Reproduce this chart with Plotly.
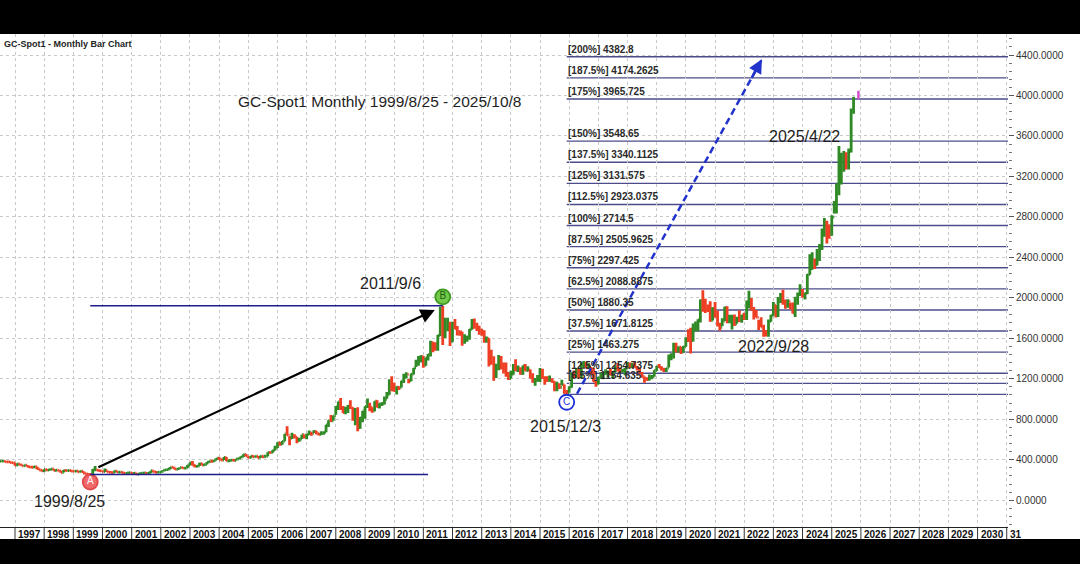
import plotly.graph_objects as go
import pandas as pd

# ---------------- data (monthly gold bars, Jul 1996 - Oct 2025) ----------------
first_month = "1996-07-01"
first_open = 383.0
close = [
    385.3, 386.9, 379.0, 378.7, 371.3, 369.3,                                   # 1996 H2
    345.5, 358.6, 348.2, 340.2, 345.4, 334.6, 326.4, 325.4, 332.1, 311.4, 296.8, 289.9,  # 1997
    303.2, 297.4, 301.3, 309.7, 293.6, 296.3, 288.8, 273.4, 293.8, 292.3, 293.5, 287.8,  # 1998
    287.1, 287.3, 279.6, 286.6, 268.6, 261.0, 255.6, 254.8, 299.0, 299.1, 291.4, 290.3,  # 1999
    283.3, 293.7, 278.4, 274.0, 272.2, 288.2, 276.8, 277.3, 273.0, 264.5, 269.1, 272.7,  # 2000
    265.6, 267.1, 257.7, 263.2, 267.3, 270.6, 265.4, 273.0, 293.1, 278.8, 274.6, 276.5,  # 2001
    282.3, 296.9, 301.4, 308.2, 326.6, 318.5, 303.7, 312.8, 324.6, 316.9, 317.6, 347.2,  # 2002
    367.5, 347.5, 334.9, 336.8, 361.4, 346.0, 354.8, 375.6, 388.0, 386.3, 398.4, 416.3,  # 2003
    399.8, 396.0, 423.7, 388.5, 393.3, 395.8, 391.4, 407.3, 415.7, 428.6, 452.6, 438.0,  # 2004
    422.2, 434.9, 428.6, 435.7, 417.3, 435.2, 429.4, 433.3, 473.3, 469.9, 495.8, 517.0,  # 2005
    568.8, 555.0, 582.0, 654.5, 643.0, 613.5, 632.5, 623.5, 599.3, 603.8, 646.7, 632.0,  # 2006
    650.5, 664.2, 661.8, 679.0, 659.5, 650.5, 665.5, 672.5, 743.0, 789.5, 783.5, 833.8,  # 2007
    923.0, 971.5, 916.0, 865.0, 885.5, 928.3, 912.0, 833.0, 870.9, 718.0, 814.5, 882.0,  # 2008
    927.5, 942.5, 916.5, 883.3, 979.5, 926.0, 954.0, 955.5, 995.8, 1040.0, 1181.0, 1096.5,  # 2009
    1083, 1118, 1113, 1180, 1213, 1244, 1181, 1247, 1307, 1357, 1386, 1421,              # 2010
    1332, 1410, 1439, 1556, 1536, 1500, 1628, 1825, 1620, 1722, 1746, 1565,              # 2011
    1738, 1696, 1668, 1664, 1562, 1604, 1614, 1691, 1772, 1719, 1712, 1675,              # 2012
    1663, 1579, 1596, 1472, 1393, 1234, 1313, 1396, 1327, 1323, 1250, 1202,              # 2013
    1244, 1326, 1284, 1296, 1250, 1327, 1282, 1287, 1210, 1171, 1182, 1184,              # 2014
    1283, 1212, 1183, 1183, 1190, 1172, 1095, 1133, 1115, 1142, 1064, 1061,              # 2015
    1118, 1238, 1233, 1293, 1215, 1321, 1350, 1309, 1316, 1277, 1173, 1151,              # 2016
    1211, 1248, 1249, 1268, 1268, 1242, 1269, 1321, 1280, 1271, 1275, 1303,              # 2017
    1345, 1318, 1325, 1315, 1299, 1253, 1224, 1201, 1192, 1215, 1222, 1282,              # 2018
    1321, 1313, 1292, 1284, 1305, 1409, 1413, 1520, 1472, 1513, 1464, 1517,              # 2019
    1589, 1585, 1577, 1687, 1730, 1781, 1975, 1968, 1886, 1879, 1776, 1895,              # 2020
    1847, 1734, 1708, 1769, 1906, 1770, 1814, 1814, 1743, 1783, 1774, 1829,              # 2021
    1796, 1909, 1937, 1897, 1837, 1807, 1766, 1711, 1661, 1633, 1768, 1824,              # 2022
    1928, 1827, 1969, 1990, 1963, 1919, 1965, 1940, 1849, 1983, 2036, 2063,              # 2023
    2039, 2044, 2230, 2286, 2327, 2326, 2447, 2503, 2634, 2744, 2643, 2625,              # 2024
    2798, 2858, 3124, 3288, 3289, 3303, 3290, 3448, 3858, 3975,                          # 2025
]
high = [
    389, 392, 388, 384, 384, 373,
    369, 365, 359, 348, 348, 345, 335, 332, 335, 334, 313, 298,
    307, 304, 302, 314, 310, 298, 296, 291, 298, 301, 299, 296,
    292, 291, 291, 290, 289, 271, 261, 259, 308, 338, 305, 292,
    292, 313, 294, 287, 276, 293, 291, 281, 277, 274, 272, 275,
    273, 270, 268, 265, 275, 273, 272, 278, 294, 294, 285, 281,
    284, 298, 304, 309, 328, 328, 321, 314, 325, 326, 320, 349,
    372, 388, 352, 342, 371, 364, 359, 378, 391, 391, 399, 418,
    428, 411, 427, 427, 396, 400, 407, 410, 419, 434, 454, 456,
    430, 439, 445, 438, 437, 442, 430, 448, 475, 481, 496, 538,
    572, 574, 585, 654, 730, 632, 667, 651, 628, 618, 648, 649,
    656, 689, 668, 692, 686, 665, 681, 678, 745, 790, 841, 838,
    931, 975, 1011, 932, 923, 940, 988, 919, 912, 918, 823, 882,
    929, 1006, 964, 918, 979, 987, 959, 965, 1024, 1070, 1195, 1226,
    1162, 1126, 1127, 1180, 1249, 1265, 1198, 1252, 1307, 1388, 1424, 1432,
    1424, 1411, 1446, 1577, 1565, 1560, 1632, 1911, 1920.9, 1803, 1804, 1764,
    1764, 1791, 1722, 1677, 1665, 1641, 1625, 1693, 1790, 1796, 1755, 1724,
    1694, 1679, 1617, 1600, 1487, 1423, 1348, 1434, 1425, 1361, 1362, 1267,
    1280, 1345, 1392, 1331, 1315, 1332, 1345, 1323, 1292, 1255, 1208, 1238,
    1307, 1300, 1224, 1224, 1232, 1205, 1175, 1170, 1157, 1191, 1143, 1088,
    1127, 1263, 1283, 1306, 1304, 1362, 1375, 1367, 1353, 1317, 1307, 1180,
    1220, 1264, 1261, 1295, 1272, 1296, 1270, 1331, 1357, 1306, 1299, 1306,
    1366, 1361, 1356, 1365, 1326, 1309, 1266, 1223, 1214, 1243, 1237, 1284,
    1326, 1346, 1324, 1310, 1306, 1439, 1453, 1555, 1557, 1518, 1516, 1525,
    1611, 1689, 1704, 1747, 1765, 1789, 1984, 2075, 1992, 1933, 1966, 1906,
    1959, 1872, 1755, 1798, 1913, 1917, 1832, 1834, 1836, 1814, 1877, 1831,
    1853, 1974, 2070, 1998, 1910, 1880, 1784, 1808, 1735, 1682, 1786, 1833,
    1959, 1929, 2009, 2048, 2079, 1984, 1987, 1950, 1953, 2010, 2052, 2135,
    2088, 2049, 2236, 2431, 2450, 2388, 2483, 2531, 2685, 2790, 2761, 2726,
    2817, 2956, 3128, 3500, 3435, 3451, 3439, 3475, 3871, 3985,
]
low = [
    380, 384, 378, 376, 370, 366,
    341, 341, 345, 337, 340, 334, 318, 320, 320, 305, 295, 283,
    278, 294, 293, 299, 291, 288, 285, 271, 274, 288, 291, 286,
    283, 284, 278, 279, 268, 257, 253, 252.9, 255, 296, 289, 285,
    280, 282, 277, 273, 263, 271, 274, 270, 270, 263, 263, 267,
    264, 257, 256, 256, 262, 265, 264, 265, 270, 277, 272, 272,
    276, 283, 290, 302, 307, 316, 302, 302, 311, 313, 313, 317,
    343, 344, 326, 325, 338, 342, 340, 354, 370, 370, 380, 397,
    399, 394, 397, 387, 374, 386, 388, 392, 401, 415, 426, 432,
    414, 415, 426, 424, 414, 416, 418, 430, 434, 462, 469, 491,
    517, 538, 548, 582, 643, 543, 604, 611, 562, 578, 606, 610,
    602, 645, 637, 663, 651, 640, 645, 647, 672, 724, 772, 784,
    845, 891, 892, 862, 849, 863, 901, 786, 740, 681, 705, 771,
    806, 910, 880, 865, 880, 917, 907, 931, 946, 1003, 1041, 1076,
    1072, 1044, 1088, 1115, 1159, 1203, 1157, 1176, 1242, 1316, 1330, 1361,
    1309, 1330, 1380, 1420, 1462, 1478, 1478, 1623, 1535, 1604, 1670, 1523,
    1563, 1690, 1627, 1626, 1527, 1546, 1565, 1585, 1684, 1694, 1672, 1636,
    1626, 1555, 1555, 1321, 1338, 1180, 1208, 1284, 1291, 1251, 1221, 1187,
    1202, 1239, 1277, 1268, 1240, 1241, 1280, 1273, 1206, 1161, 1131, 1170,
    1167, 1197, 1142, 1175, 1170, 1162, 1077, 1077, 1099, 1136, 1052, 1046.2,
    1061, 1111, 1208, 1208, 1200, 1208, 1310, 1302, 1303, 1241, 1171, 1122,
    1146, 1207, 1195, 1240, 1214, 1236, 1204, 1267, 1275, 1260, 1264, 1236,
    1302, 1307, 1303, 1310, 1282, 1251, 1211, 1160, 1180, 1182, 1196, 1221,
    1276, 1311, 1281, 1266, 1266, 1311, 1382, 1400, 1459, 1459, 1446, 1460,
    1517, 1563, 1451, 1568, 1671, 1671, 1757, 1863, 1849, 1860, 1764, 1775,
    1802, 1717, 1677, 1722, 1770, 1750, 1750, 1688, 1721, 1746, 1762, 1753,
    1781, 1780, 1895, 1873, 1787, 1805, 1681, 1710, 1615, 1617, 1616, 1763,
    1823, 1805, 1810, 1949, 1932, 1893, 1903, 1885, 1846, 1810, 1931, 2017,
    2001, 1984, 2038, 2228, 2277, 2286, 2320, 2364, 2472, 2604, 2537, 2583,
    2614, 2833, 2833, 3015, 3121, 3247, 3268, 3269, 3436, 3820,
]

# Fibonacci expansion A -> B projected from C
fib_pct = ["0%", "6.5%", "12.5%", "25%", "37.5%", "50%", "62.5%", "75%", "87.5%",
           "100%", "112.5%", "125%", "137.5%", "150%", "175%", "187.5%", "200%"]
fib_val = ["1046.2", "1154.635", "1254.7375", "1463.275", "1671.8125", "1880.35",
           "2088.8875", "2297.425", "2505.9625", "2714.5", "2923.0375", "3131.575",
           "3340.1125", "3548.65", "3965.725", "4174.2625", "4382.8"]
fib_start = "2015-12-01"

# pivot points
pt_label = ["A", "B", "C"]
pt_date = ["1999-08-01", "2011-09-01", "2015-12-01"]
pt_price = [252.9, 1920.9, 1046.2]
pt_marker_price = [180, 2010, 968]
pt_caption = ["1999/8/25", "2011/9/6", "2015/12/3"]

year_labels = [str(y) for y in range(1997, 2031)] + ["31"]
year_starts = [f"{y}-01-01" for y in range(1997, 2032)]

x_range = ["1996-06-27", "2031-01-17"]
y_range = [-264.9, 4607.6]

# ---------------- figure ----------------
months = pd.date_range(first_month, periods=len(close), freq="MS")
opens = [first_open] + close[:-1]

GREEN = "#2f8a26"
RED = "#ee3f24"
TXT = "#1e1e1e"

fig = go.Figure()
fig.add_trace(go.Ohlc(
    x=months, open=opens, high=high, low=low, close=close,
    increasing=dict(line=dict(color=GREEN, width=2.8)),
    decreasing=dict(line=dict(color=RED, width=2.8)),
    tickwidth=0.45, hoverinfo="skip", showlegend=False,
))

shapes = []
annotations = []

# white chart panel (over black letterbox)
shapes.append(dict(type="rect", xref="paper", yref="paper", x0=0, x1=1080 / 1008,
                   y0=-12 / 493, y1=1.0, fillcolor="white", line=dict(width=0), layer="below"))

# fib lines and labels
for p, v in zip(fib_pct, fib_val):
    shapes.append(dict(type="line", xref="x", yref="y", x0=fib_start, x1=x_range[1],
                       y0=float(v), y1=float(v), line=dict(color="#4c4c8a", width=1.4),
                       layer="below"))
    if p != "0%":
        annotations.append(dict(x=fib_start, y=float(v), xref="x", yref="y",
                                xanchor="left", yanchor="bottom", showarrow=False,
                                xshift=-1, yshift=0,
                                text=f"[{p}] {v}",
                                font=dict(family="Liberation Sans", size=10, color="#2a2a2a",
                                          weight="bold")))

# A and B horizontal levels
shapes.append(dict(type="line", xref="x", yref="y", x0=pt_date[0], x1="2011-03-01",
                   y0=pt_price[0], y1=pt_price[0], line=dict(color="#1f1f8c", width=1.5)))
shapes.append(dict(type="line", xref="x", yref="y", x0=pt_date[0], x1=pt_date[1],
                   y0=pt_price[1], y1=pt_price[1], line=dict(color="#1f1f8c", width=1.5)))

# black arrow A -> B
annotations.append(dict(x="2011-05-25", y=1880, ax="1999-10-23", ay=318,
                        xref="x", yref="y", axref="x", ayref="y", text="",
                        showarrow=True, arrowhead=2, arrowsize=1.3, arrowwidth=2.2,
                        arrowcolor="black"))

# blue dashed projection from C
proj_dates = ["2016-04-08", "2022-08-10"]
proj_prices = [1052, 4357]
fig.add_trace(go.Scatter(x=proj_dates, y=proj_prices, mode="lines",
                         line=dict(color="#2233cc", width=2.5, dash="7px,4px"),
                         hoverinfo="skip", showlegend=False))
annotations.append(dict(x=proj_dates[1], y=proj_prices[1], xref="x", yref="y",
                        ax=-11, ay=20, text="", showarrow=True, arrowhead=2,
                        arrowsize=1.1, arrowwidth=2.5, arrowcolor="#2233cc"))

# pivot circles
fig.add_trace(go.Scatter(
    x=pt_date, y=pt_marker_price, mode="markers+text", text=pt_label,
    textposition="middle center",
    textfont=dict(family="Liberation Sans", size=10, color=["white", "#1f5e12", "#1d2fd6"]),
    marker=dict(size=15, color=["#f0686a", "#72c94a", "white"],
                line=dict(color=["#e0484a", "#3f9a22", "#1d2fd6"], width=1.8)),
    hoverinfo="skip", showlegend=False))

# current price tick (magenta)
fig.add_trace(go.Scatter(x=["2025-12-01"], y=[4005], mode="markers",
                         marker=dict(symbol="line-ns", size=6,
                                     line=dict(color="#d24fd2", width=2.5)),
                         hoverinfo="skip", showlegend=False))

# captions
cap_pos = [("1998-11-18", -8), ("2009-11-20", 2137), ("2015-11-20", 733)]
for c, (cx, cy) in zip(pt_caption, cap_pos):
    annotations.append(dict(x=cx, y=cy, xref="x", yref="y", text=c, showarrow=False,
                            font=dict(family="Liberation Sans", size=16, color=TXT)))
for c, cx, cy in [("2022/9/28", "2022-12-28", 1524), ("2025/4/22", "2024-01-30", 3590)]:
    annotations.append(dict(x=cx, y=cy, xref="x", yref="y", text=c, showarrow=False,
                            font=dict(family="Liberation Sans", size=16, color=TXT)))
annotations.append(dict(x="2009-07-05", y=3945, xref="x", yref="y",
                        text="GC-Spot1 Monthly 1999/8/25 - 2025/10/8", showarrow=False,
                        font=dict(family="Liberation Sans", size=15.5, color=TXT)))

# chart header
annotations.append(dict(x=0, y=1, xref="paper", yref="paper", xanchor="left", yanchor="top",
                        xshift=2, yshift=-3, text="GC-Spot1 - Monthly Bar Chart",
                        showarrow=False,
                        font=dict(family="Liberation Sans", size=9, color="#222",
                                  weight="bold")))

# year axis boxes
for ys in year_starts:
    shapes.append(dict(type="line", xref="x", yref="paper", x0=ys, x1=ys,
                       y0=-12 / 493, y1=0, line=dict(color="#333", width=1)))
for lab, ys in zip(year_labels, year_starts):
    annotations.append(dict(x=ys, y=0, xref="x", yref="paper", xanchor="left",
                            yanchor="top", xshift=1, yshift=0, text=lab, showarrow=False,
                            font=dict(family="Liberation Sans", size=10, color="#111",
                                      weight="bold")))

fig.update_layout(
    width=1080, height=564,
    margin=dict(l=0, r=72, t=34, b=37),
    paper_bgcolor="black", plot_bgcolor="white",
    shapes=shapes, annotations=annotations,
    showlegend=False, hovermode=False,
    xaxis=dict(type="date", range=x_range, tickvals=year_starts, showticklabels=False,
               ticks="", showgrid=True, gridcolor="#c9c9c9", griddash="3px,3px",
               gridwidth=1, showline=True, linecolor="#222", linewidth=1,
               rangeslider=dict(visible=False), zeroline=False, fixedrange=True),
    yaxis=dict(side="right", range=y_range, tickvals=list(range(0, 4401, 400)),
               tickformat=".4f", ticks="outside", ticklen=5, tickcolor="#555",
               tickfont=dict(family="Liberation Sans", size=10, color="#333"),
               showgrid=True, gridcolor="#c9c9c9", griddash="3px,3px", zeroline=False,
               minor=dict(dtick=80, tick0=0, ticks="outside", ticklen=3, tickcolor="#777",
                          showgrid=False),
               showline=False, fixedrange=True),
)

fig.write_html("out.html", config={"displayModeBar": False, "staticPlot": True},
               post_script="document.body.style.margin='0';"
                           "document.body.style.background='black';")
